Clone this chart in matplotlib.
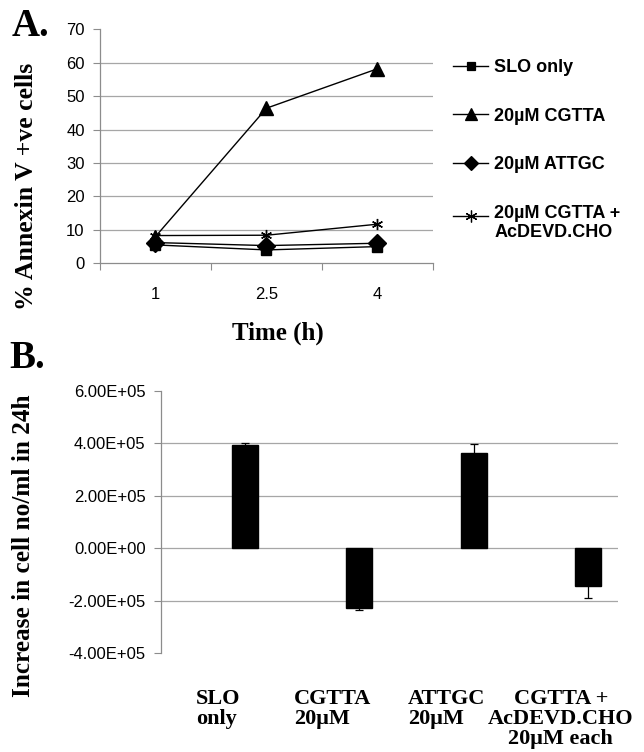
import matplotlib
matplotlib.use('Agg')
import matplotlib.pyplot as plt
from matplotlib.lines import Line2D
from matplotlib.ticker import FuncFormatter, FixedLocator

# ---------------- data ----------------
time_labels = ['1', '2.5', '4']
slo_only = [5.5, 4.0, 5.0]
cgtta = [8.0, 46.4, 58.2]
attgc = [6.2, 5.3, 6.0]
cgtta_acdevd = [8.3, 8.4, 11.7]
series_names = ['SLO only', '20µM CGTTA', '20µM ATTGC', '20µM CGTTA +\nAcDEVD.CHO']

bar_labels = ['SLO\nonly', 'CGTTA\n20μM', 'ATTGC\n20μM', 'CGTTA +\nAcDEVD.CHO\n20μM each']
bar_values = [3.94e5, -2.28e5, 3.62e5, -1.44e5]
bar_errors = [0.09e5, 0.08e5, 0.36e5, 0.45e5]

a_yticks = [0, 10, 20, 30, 40, 50, 60, 70]
b_yticks = [-4e5, -2e5, 0, 2e5, 4e5, 6e5]

# ---------------- style ----------------
SERIF = 'Liberation Serif'
SANS = 'Liberation Sans'
GRID = '#a6a6a6'
AX = '#8c8c8c'

fig = plt.figure(figsize=(6.44, 7.52), dpi=100)

# ---------------- panel A ----------------
axA = fig.add_axes([100/644, 1-263.3/752, 333/644, 234/752])
x = list(range(len(time_labels)))
markers = [('s', 7.0), ('^', 9.4), ('D', 9.2), ((6, 2, 0), 8.0)]
series = [slo_only, cgtta, attgc, cgtta_acdevd]
for vals, (m, ms) in zip(series, markers):
    axA.plot(x, vals, color='black', lw=1.0, marker=m, markersize=ms,
             markerfacecolor='black', markeredgecolor='black', markeredgewidth=1.0,
             clip_on=False)

axA.set_xlim(-0.5, len(time_labels) - 0.5)
axA.set_ylim(0, 70)
axA.set_yticks(a_yticks)
axA.set_xticks(x)
axA.set_xticklabels(time_labels)
axA.xaxis.set_minor_locator(FixedLocator([i - 0.5 for i in range(len(time_labels) + 1)]))
axA.tick_params(axis='x', which='major', length=0, pad=17, labelsize=12)
axA.tick_params(axis='x', which='minor', length=5, color=AX, width=0.8, direction='out')
axA.tick_params(axis='y', length=5, color=AX, width=0.8, pad=6, labelsize=12)
for lab in axA.get_xticklabels() + axA.get_yticklabels():
    lab.set_fontfamily(SANS)
axA.yaxis.grid(True, color=GRID, lw=0.9)
glines = axA.get_ygridlines()
glines[0].set_visible(False)
glines[-1].set_visible(False)
axA.set_axisbelow(True)
for s in ['top', 'right']:
    axA.spines[s].set_visible(False)
for s in ['left', 'bottom']:
    axA.spines[s].set_color(AX)
    axA.spines[s].set_linewidth(0.9)

axA.set_ylabel('% Annexin V +ve cells', fontfamily=SERIF, fontweight='bold', fontsize=18.5)
axA.yaxis.set_label_coords((27-100)/333, (263.3-186)/234)
axA.yaxis.label.set_va('center')
axA.set_xlabel('Time (h)', fontfamily=SERIF, fontweight='bold', fontsize=18)
axA.xaxis.set_label_coords((278-100)/333, -(333-263.3)/234)
axA.xaxis.label.set_va('center')

# legend
leg_markers = [('s', 6.0), ('^', 8.0), ('D', 7.0), ((6, 2, 0), 8.5)]
handles = [Line2D([], [], color='black', lw=1.0, marker=m, markersize=ms,
                  markerfacecolor='black', markeredgecolor='black', markeredgewidth=0.9)
           for m, ms in leg_markers]
leg = axA.legend(handles, series_names, loc='upper left',
                 bbox_to_anchor=(453/644, 1-59/752), bbox_transform=fig.transFigure,
                 frameon=False, borderpad=0, borderaxespad=0, handlelength=1.95,
                 handletextpad=0.33, labelspacing=1.75,
                 prop={'family': SANS, 'weight': 'bold', 'size': 13})
# align the marker of the two-line entry with its first line (as in the original)
try:
    col = leg._legend_handle_box.get_children()[0]
    item = col.get_children()[-1]
    item.align = 'top'
    da = item.get_children()[0]
    da.height = da.height + 3.5 * 72 / 100 * 100 / 72
except Exception:
    pass

fig.text(12/644, 1-26/752, 'A.', fontfamily=SERIF, fontweight='bold', fontsize=28,
         ha='left', va='center')

# ---------------- panel B ----------------
axB = fig.add_axes([161/644, 1-653/752, 457/644, 262/752])
bx = [i + 0.236 for i in range(len(bar_labels))]
axB.bar(bx, bar_values, width=0.227, color='black', edgecolor='black', zorder=3)
axB.errorbar(bx, bar_values, yerr=bar_errors, fmt='none', ecolor='black',
             elinewidth=0.9, capsize=2.6, capthick=0.9, zorder=4)
axB.set_xlim(-0.5, len(bar_labels) - 0.5)
axB.set_ylim(-4e5, 6e5)
axB.set_yticks(b_yticks)
axB.yaxis.set_major_formatter(FuncFormatter(lambda v, p: f'{v:.2E}'))
axB.set_xticks(range(len(bar_labels)))
axB.set_xticklabels(bar_labels)
axB.tick_params(axis='x', length=0, pad=26)
axB.tick_params(axis='y', length=5, color=AX, width=0.8, pad=6, labelsize=12)
for lab in axB.get_yticklabels():
    lab.set_fontfamily(SANS)
for i, lab in enumerate(axB.get_xticklabels()):
    lab.set_fontfamily(SERIF)
    lab.set_fontweight('bold')
    lab.set_fontsize(16)
    lab.set_linespacing(1.0)
    lab.set_verticalalignment('top')
    lab.set_multialignment('center' if i == len(bar_labels) - 1 else 'left')
axB.yaxis.grid(True, color=GRID, lw=0.9)
gl = axB.get_ygridlines()
gl[0].set_visible(False)
gl[-1].set_visible(False)
axB.set_axisbelow(True)
for s in ['top', 'right', 'bottom']:
    axB.spines[s].set_visible(False)
axB.spines['left'].set_color(AX)
axB.spines['left'].set_linewidth(0.9)

axB.set_ylabel('Increase in cell no/ml in 24h', fontfamily=SERIF, fontweight='bold',
               fontsize=18.2)
axB.yaxis.set_label_coords((24-161)/457, (653-546)/262)
axB.yaxis.label.set_va('center')

fig.text(9/644, 1-359/752, 'B.', fontfamily=SERIF, fontweight='bold', fontsize=28,
         ha='left', va='center')

fig.savefig('out.png', dpi=100)
